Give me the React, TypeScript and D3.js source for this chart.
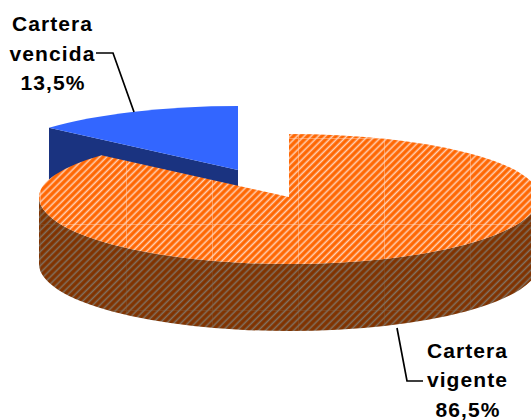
import React from 'react';
import { pie, range } from 'd3';

const categories = ['Cartera vencida', 'Cartera vigente'];
const shares = [13.5, 86.5];
const labels = [['Cartera', 'vencida', '13,5%'], ['Cartera', 'vigente', '86,5%']];

const W = 531, H = 420;
const rx = [252, 250];
const ryBack = [64, 63], ryFront = 67, depth = 67;
// apex of each slice, the pie is exploded
const apex = [{ x: 238, y: 170 }, { x: 289, y: 197 }];
const tile = 86; // the hatch shows seams every 86px

const startA = -2 * Math.PI * shares[0] / 100;
const slices = pie<number>().sort(null).startAngle(startA).endAngle(2 * Math.PI + startA)(shares);

// point on the flattened rim, the front of the ellipse is a bit deeper than the back
const rim = (i: number, a: number) => {
  const c = Math.cos(a);
  return [apex[i].x + rx[i] * Math.sin(a), apex[i].y - (c > 0 ? ryBack[i] : ryFront) * c];
};

export default function App() {
  const blue = slices[0], orange = slices[1];
  const bEnd = rim(0, blue.startAngle);
  const oEnd = rim(1, orange.endAngle);
  const ox = apex[1].x, oy = apex[1].y, r = rx[1];

  const blueTop = `M${apex[0].x},${apex[0].y} L${bEnd} A${rx[0]},${ryBack[0]} 0 0 1 ${rim(0, blue.endAngle)} Z`;
  const cut = `M${bEnd} L${apex[0].x},${apex[0].y} l0,${depth} L${bEnd[0]},${bEnd[1] + depth} Z`;
  const orangeTop = `M${ox},${oy} L${rim(1, orange.startAngle)}
    A${r},${ryBack[1]} 0 0 1 ${ox + r},${oy}
    A${r},${ryFront} 0 0 1 ${ox - r},${oy}
    A${r},${ryBack[1]} 0 0 1 ${oEnd} Z`;
  // front wall, lower half of the ellipse pushed down
  const wall = `M${ox + r},${oy} A${r},${ryFront} 0 0 1 ${ox - r},${oy} l0,${depth} A${r},${ryFront} 0 0 0 ${ox + r},${oy + depth} Z`;

  const seamsX = range(40, W, tile);
  const seamsY = range(138, H, tile);
  const seams = (color: string, opacity: number) => (
    <g stroke={color} strokeWidth={1} opacity={opacity}>
      {seamsX.map(x => <line key={x} x1={x + 0.5} x2={x + 0.5} y1={0} y2={H} />)}
      {seamsY.map(y => <line key={y} y1={y + 0.5} y2={y + 0.5} x1={0} x2={W} />)}
    </g>
  );

  return (
    <svg width={W} height={H} style={{ position: 'fixed', left: 0, top: 0, background: '#fff' }}>
      <defs>
        <pattern id="hatchTop" width="5" height="5" patternUnits="userSpaceOnUse" patternTransform="rotate(45)">
          <rect width="5" height="5" fill="#ff6600" />
          <rect x="0.4" width="2" height="5" fill="#ff9d60" />
          <rect x="0.9" width="1" height="5" fill="#ffd8c0" />
        </pattern>
        <pattern id="hatchSide" width="5" height="5" patternUnits="userSpaceOnUse" patternTransform="rotate(45)">
          <rect width="5" height="5" fill="#803300" />
          <rect x="0.4" width="2" height="5" fill="#80522f" />
          <rect x="0.9" width="1" height="5" fill="#807468" />
        </pattern>
        <clipPath id="clipTop"><path d={orangeTop} /></clipPath>
        <clipPath id="clipWall"><path d={wall} /></clipPath>
      </defs>
      <path d={cut} fill="#1a3380" />
      <path d={blueTop} fill="#3366ff" />
      <g clipPath="url(#clipWall)">
        <rect width={W} height={H} fill="url(#hatchSide)" />
        {seams('#80664f', 0.3)}
      </g>
      <g clipPath="url(#clipTop)">
        <rect width={W} height={H} fill="url(#hatchTop)" />
        {seams('#ffd8c0', 0.45)}
      </g>
      <polyline points="96,53 113,53 134,112" fill="none" stroke="#000" strokeWidth={1.7} />
      <polyline points="397,328 407,381 423,381" fill="none" stroke="#000" strokeWidth={1.7} />
      <g fontFamily="Liberation Sans" fontWeight="bold" fontSize={21} textAnchor="middle" fill="#000" letterSpacing={1.1}>
        {labels[0].map((t, i) => <text key={t} x={i === 2 ? 53 : 52.5} y={31 + i * 29.5}>{t}</text>)}
        {labels[1].map((t, i) => <text key={t} x={i === 2 ? 468 : 467.5} y={358 + i * 29.3}>{t}</text>)}
      </g>
    </svg>
  );
}
